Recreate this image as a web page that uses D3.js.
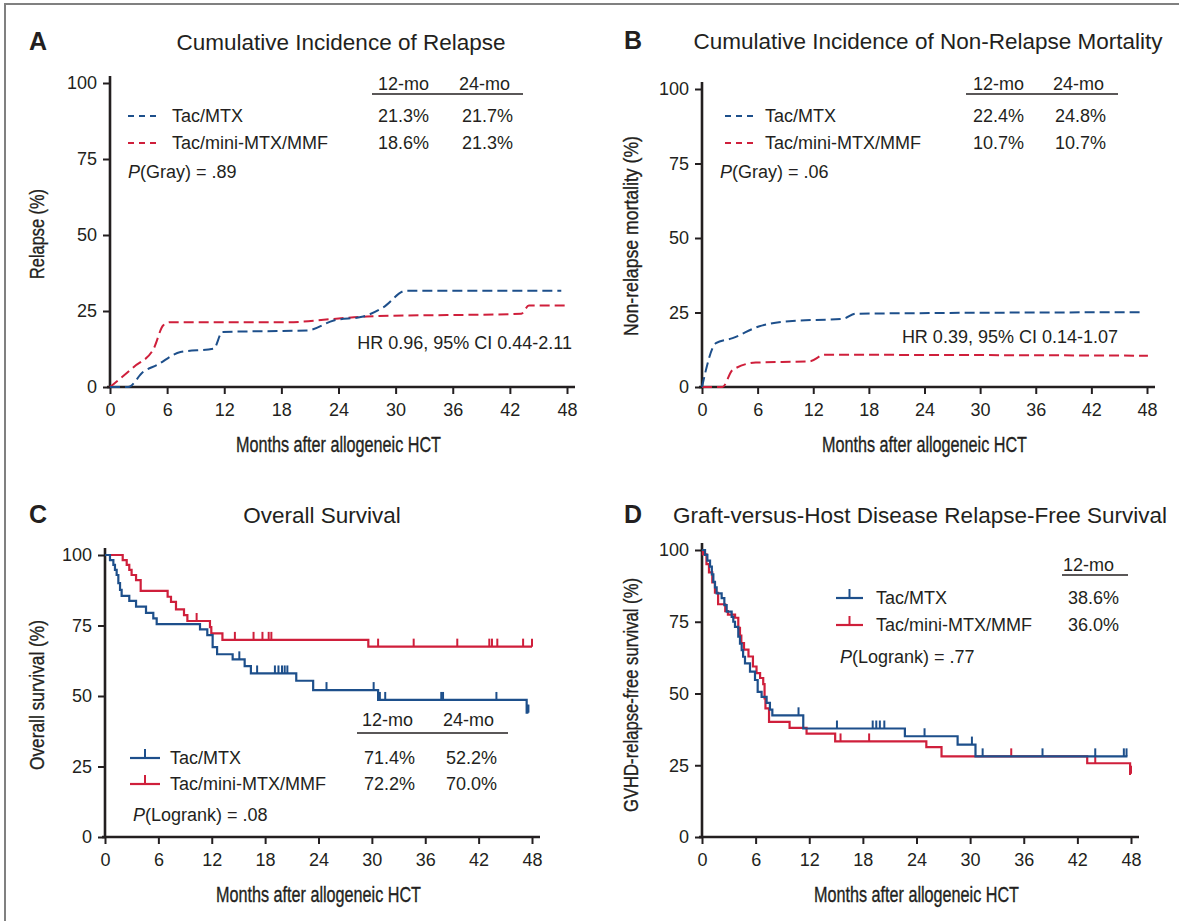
<!DOCTYPE html>
<html><head><meta charset="utf-8">
<script src="https://cdn.jsdelivr.net/npm/d3@7"></script>
<style>
body{margin:0;background:#fff}
svg{display:block}
text{font-family:"Liberation Sans",Arial,Helvetica,sans-serif;fill:#231f20}
</style>
</head><body>
<svg id="chart" width="1179" height="921"></svg>
<script>
// ---------------- data ----------------
const xTicks = [0, 6, 12, 18, 24, 30, 36, 42, 48];
const yTicks = [0, 25, 50, 75, 100];
const groups = ["Tac/MTX", "Tac/mini-MTX/MMF"];

// A: cumulative incidence of relapse [month, %]
const relapseMTX = [[0,0],[1.9,0],[3.5,5.0],[4.9,7.2],[7.4,11.5],[10.9,12.6],[11.8,18.1],[20.7,18.6],[23.5,21.9],[26.6,23.2],[28.7,26.2],[31.1,31.7],[47.4,31.7]];
const relapseMMF = [[0,0],[2.5,6.6],[4.6,12.7],[5.6,20.3],[6.3,21.3],[18.6,21.3],[23.5,22.4],[27,23.2],[43.2,24.1],[44,26.8],[48.1,26.8]];
const relapse12 = ["21.3%", "18.6%"];
const relapse24 = ["21.7%", "21.3%"];

// B: cumulative incidence of non-relapse mortality
const nrmMTX = [[0,0],[1.5,14.7],[3.3,16.4],[6.2,20.4],[9.4,22.1],[15.2,22.9],[16.6,24.6],[47.2,25.1]];
const nrmMMF = [[0,0],[2.2,0],[3.3,5.7],[5.8,8.2],[11.6,8.6],[13.2,10.8],[48.1,10.5]];
const nrm12 = ["22.4%", "10.7%"];
const nrm24 = ["24.8%", "10.7%"];

// C: overall survival, Kaplan-Meier steps [month, %]
const osMTX = [[0,100],[0.56,98.2],[0.94,96.5],[1.12,94.7],[1.31,92.9],[1.5,90.0],[1.69,87.6],[1.87,85.5],[2.73,83.7],[3.49,81.7],[4.61,79.5],[5.43,77.5],[5.81,75.5],[10.68,73.6],[11.5,71.6],[12.1,67.3],[12.6,64.8],[14.35,63.0],[15.7,60.6],[16.4,58.0],[21.5,55.4],[23.4,52.1],[30.7,48.6],[47.4,44.1],[47.6,44.1]];
const osMMF = [[0,100],[1.99,98.2],[2.44,96.5],[2.73,94.7],[2.99,92.9],[3.49,91.1],[4.01,87.3],[7.04,85.2],[7.42,83.4],[7.98,80.7],[8.88,78.7],[9.26,76.6],[11.8,74.4],[11.95,72.2],[13.2,69.9],[29.6,67.5],[48.0,67.5]];
const osCensMTX = [15.1,17.1,19.1,19.5,19.9,20.2,20.5,24.9,30.2,30.9,31.5,37.8,38.0,44.0,47.5,47.6];
const osCensMMF = [10.3,14.6,16.7,17.7,18.4,18.7,30.7,34.7,39.6,43.2,43.5,44.1,47.0,48.0];
const os12 = ["71.4%", "72.2%"];
const os24 = ["52.2%", "70.0%"];

// D: GVHD-relapse-free survival
const grfsMTX = [[0,100],[0.34,98.3],[0.6,96.3],[0.9,94.2],[1.1,91.5],[1.27,88.9],[1.45,87.0],[1.64,84.9],[2.2,83.2],[2.5,80.8],[2.76,78.5],[3.32,76.7],[3.5,75.0],[3.69,73.2],[4.06,69.8],[4.25,67.4],[4.44,65.1],[4.6,62.8],[4.81,60.5],[5.37,57.6],[5.93,54.7],[6.23,50.6],[6.67,48.8],[7.23,46.7],[7.6,44.4],[7.87,42.4],[11.33,37.8],[22.7,35.1],[28.6,32.2],[30.6,28.1],[47.6,28.1]];
const grfsMMF = [[0,100],[0.1,98.5],[0.5,95.1],[0.78,92.2],[1.15,88.7],[1.45,85.1],[1.8,81.1],[2.6,78.7],[2.9,77.5],[3.7,76.4],[4.06,72.9],[4.25,70.2],[4.4,67.6],[4.7,65.3],[5.2,62.9],[5.7,59.4],[6.1,57.1],[6.5,55.4],[6.85,53.3],[7.0,48.3],[7.1,44.8],[7.5,40.1],[9.8,38.0],[11.7,36.0],[14.9,33.3],[25.1,31.3],[26.8,28.1],[43.1,25.7],[47.9,22.0],[48.0,22.0]];
const grfsCensMTX = [10.8,15.1,19.1,19.5,19.9,20.4,24.9,30.2,31.4,38.1,44.0,47.2,47.5];
const grfsCensMMF = [15.5,18.7,34.6,44.0,48.0];
const grfs12 = ["38.6%", "36.0%"];

// ---------------- drawing ----------------
const BLUE = "#1d4f8b", RED = "#cf1f3b", INK = "#231f20";
const FS = 18;
const svg = d3.select("#chart");

svg.append("path").attr("d", "M5,921V4H1179").attr("fill", "none")
  .attr("stroke", "#808080").attr("stroke-width", 2);

function txt(x, y, s, opts = {}) {
  return svg.append("text").attr("x", x).attr("y", y)
    .attr("font-size", opts.size || FS)
    .attr("text-anchor", opts.anchor || "start")
    .attr("font-weight", opts.weight || "normal")
    .text(s);
}

function panel(cfg) {
  const x = d3.scaleLinear().domain([0, 48]).range([cfg.x0, cfg.x48]);
  const y = d3.scaleLinear().domain([0, 100]).range([cfg.y0, cfg.y100]);
  const g = svg.append("g");
  const ya = g.append("g").attr("transform", `translate(${cfg.x0},0)`)
    .call(d3.axisLeft(y).tickValues(yTicks).tickSize(7).tickPadding(6));
  ya.select(".domain").remove();
  ya.selectAll("line").attr("stroke", INK).attr("stroke-width", 2);
  ya.selectAll("text").attr("font-size", FS).attr("font-family", "Liberation Sans, Arial, sans-serif").attr("fill", INK);
  const xa = g.append("g").attr("transform", `translate(0,${cfg.y0})`)
    .call(d3.axisBottom(x).tickValues(xTicks).tickSize(7).tickPadding(9));
  xa.select(".domain").remove();
  xa.selectAll("line").attr("stroke", INK).attr("stroke-width", 2);
  xa.selectAll("text").attr("font-size", FS).attr("font-family", "Liberation Sans, Arial, sans-serif").attr("fill", INK);
  g.append("line").attr("x1", cfg.x0).attr("x2", cfg.x0).attr("y1", cfg.y0 + 1).attr("y2", cfg.y100 - 7)
    .attr("stroke", INK).attr("stroke-width", 2.6);
  g.append("line").attr("x1", cfg.x0 - 3).attr("x2", cfg.x48 + 8).attr("y1", cfg.y0).attr("y2", cfg.y0)
    .attr("stroke", INK).attr("stroke-width", 2.6);
  txt(cfg.letterX, cfg.titleY, cfg.letter, {size: 25, weight: "bold"});
  txt(cfg.titleX, cfg.titleY, cfg.title, {size: 22.5, anchor: "middle"});
  const xc = (cfg.x0 + cfg.x48) / 2;
  txt(xc, cfg.y0 + 65, "Months after allogeneic HCT", {size: 22, anchor: "middle"})
    .attr("textLength", 205).attr("lengthAdjust", "spacingAndGlyphs")
    .attr("stroke", INK).attr("stroke-width", 0.35);
  svg.append("text").attr("transform", `translate(${cfg.yTitleX},${cfg.yTitleY}) rotate(-90)`)
    .attr("font-size", 21).attr("text-anchor", "middle")
    .attr("textLength", cfg.yTitleLen).attr("lengthAdjust", "spacingAndGlyphs")
    .attr("stroke", INK).attr("stroke-width", 0.35)
    .text(cfg.yTitle);
  return {x, y};
}

function dashedCurve(sc, data, color) {
  svg.append("path").datum(data)
    .attr("d", d3.line().x(d => sc.x(d[0])).y(d => sc.y(d[1])).curve(d3.curveMonotoneX))
    .attr("fill", "none").attr("stroke", color).attr("stroke-width", 2)
    .attr("stroke-dasharray", "10,5");
}

function stepAt(steps, t) {
  let v = steps[0][1];
  for (const s of steps) if (s[0] <= t) v = s[1];
  return v;
}

function kmCurve(sc, steps, cens, color) {
  svg.append("path").datum(steps)
    .attr("d", d3.line().x(d => sc.x(d[0])).y(d => sc.y(d[1])).curve(d3.curveStepAfter))
    .attr("fill", "none").attr("stroke", color).attr("stroke-width", 2.2);
  svg.append("g").selectAll("line").data(cens).join("line")
    .attr("x1", d => sc.x(d)).attr("x2", d => sc.x(d))
    .attr("y1", d => sc.y(stepAt(steps, d)))
    .attr("y2", d => sc.y(stepAt(steps, d)) - 8)
    .attr("stroke", color).attr("stroke-width", 2);
}

function dashSample(x1, x2, yy, color) {
  svg.append("line").attr("x1", x1).attr("x2", x2).attr("y1", yy).attr("y2", yy)
    .attr("stroke", color).attr("stroke-width", 2).attr("stroke-dasharray", "6,5");
}
function tickSample(x1, x2, yy, color) {
  svg.append("line").attr("x1", x1).attr("x2", x2).attr("y1", yy).attr("y2", yy)
    .attr("stroke", color).attr("stroke-width", 2.2);
  const m = (x1 + x2) / 2;
  svg.append("line").attr("x1", m).attr("x2", m).attr("y1", yy).attr("y2", yy - 9)
    .attr("stroke", color).attr("stroke-width", 2);
}
function underline(x1, x2, yy) {
  svg.append("line").attr("x1", x1).attr("x2", x2).attr("y1", yy).attr("y2", yy)
    .attr("stroke", INK).attr("stroke-width", 1.5);
}
function pText(x, yb, rest) {
  const t = txt(x, yb, "");
  t.append("tspan").attr("font-style", "italic").text("P");
  t.append("tspan").text(rest);
}

// ----- Panel A -----
const A = panel({x0: 110, x48: 567, y0: 387, y100: 83, letter: "A", letterX: 29, titleX: 341, titleY: 50,
  title: "Cumulative Incidence of Relapse", yTitle: "Relapse (%)", yTitleX: 44, yTitleY: 234, yTitleLen: 90});
dashedCurve(A, relapseMMF, RED);
dashedCurve(A, relapseMTX, BLUE);
dashSample(128, 160, 116, BLUE);
dashSample(128, 160, 143, RED);
txt(172, 122, groups[0]); txt(172, 149, groups[1]);
txt(378, 90, "12-mo"); txt(459, 90, "24-mo"); underline(372, 523, 94);
txt(378, 122, relapse12[0]); txt(462, 122, relapse24[0]);
txt(378, 149, relapse12[1]); txt(462, 149, relapse24[1]);
pText(128, 178, "(Gray) = .89");
txt(572, 349, "HR 0.96, 95% CI 0.44-2.11", {anchor: "end"});

// ----- Panel B -----
const B = panel({x0: 702, x48: 1147, y0: 387, y100: 89, letter: "B", letterX: 624, titleX: 928, titleY: 49,
  title: "Cumulative Incidence of Non-Relapse Mortality", yTitle: "Non-relapse mortality (%)", yTitleX: 638, yTitleY: 236, yTitleLen: 200});
dashedCurve(B, nrmMMF, RED);
dashedCurve(B, nrmMTX, BLUE);
dashSample(725, 757, 116, BLUE);
dashSample(725, 757, 143, RED);
txt(765, 122, groups[0]); txt(765, 149, groups[1]);
txt(973, 90, "12-mo"); txt(1053, 90, "24-mo"); underline(966, 1118, 94);
txt(973, 122, nrm12[0]); txt(1055, 122, nrm24[0]);
txt(973, 149, nrm12[1]); txt(1055, 149, nrm24[1]);
pText(720, 178, "(Gray) = .06");
txt(1118, 343, "HR 0.39, 95% CI 0.14-1.07", {anchor: "end"});

// ----- Panel C -----
const C = panel({x0: 105, x48: 532, y0: 837, y100: 555, letter: "C", letterX: 29, titleX: 322, titleY: 523,
  title: "Overall Survival", yTitle: "Overall survival (%)", yTitleX: 44, yTitleY: 695, yTitleLen: 150});
kmCurve(C, osMMF, osCensMMF, RED);
kmCurve(C, osMTX, osCensMTX, BLUE);
txt(362, 726, "12-mo"); txt(443, 726, "24-mo"); underline(357, 508, 733);
tickSample(130, 160, 758, BLUE); tickSample(130, 160, 784, RED);
txt(170, 764, groups[0]); txt(170, 790, groups[1]);
txt(364, 764, os12[0]); txt(446, 764, os24[0]);
txt(364, 790, os12[1]); txt(446, 790, os24[1]);
pText(133, 821, "(Logrank) = .08");

// ----- Panel D -----
const D = panel({x0: 702, x48: 1131, y0: 837, y100: 550, letter: "D", letterX: 624, titleX: 920, titleY: 523,
  title: "Graft-versus-Host Disease Relapse-Free Survival", yTitle: "GVHD-relapse-free survival (%)", yTitleX: 638, yTitleY: 695, yTitleLen: 234});
kmCurve(D, grfsMMF, grfsCensMMF, RED);
kmCurve(D, grfsMTX, grfsCensMTX, BLUE);
txt(1063, 571, "12-mo"); underline(1062, 1128, 575);
tickSample(836, 863, 598, BLUE); tickSample(836, 863, 625, RED);
txt(876, 604, groups[0]); txt(876, 631, groups[1]);
txt(1068, 604, grfs12[0]); txt(1068, 631, grfs12[1]);
pText(840, 663, "(Logrank) = .77");
</script>
</body></html>
